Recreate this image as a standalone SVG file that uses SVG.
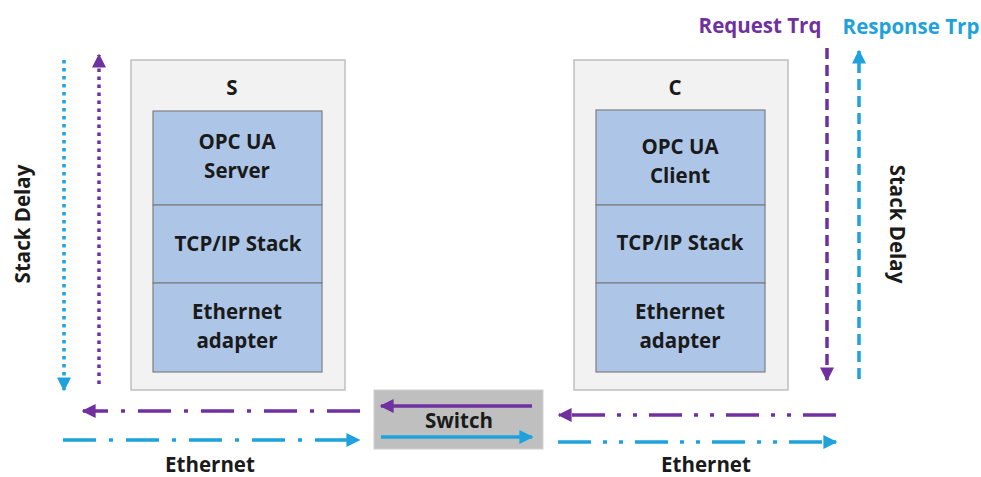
<svg xmlns="http://www.w3.org/2000/svg" width="981" height="477" viewBox="0 0 981 477">
  <style>
    .outer { fill: #f2f2f2; stroke: #bfbfbf; stroke-width: 1.5; }
    .layer { fill: #adc6e8; stroke: #7f7f7f; stroke-width: 1.2; }
    .lbl { font-family: "Open Sans", "Noto Sans", sans-serif; font-weight: bold; font-size: 20.5px; fill: #1a1a1a; text-anchor: middle; }
    .purple { stroke: #7030a0; }
    .blue { stroke: #1fa2dc; }
    .ln { fill: none; stroke-width: 3.5; }
    .dot { stroke-dasharray: 3.5 4.5; stroke-linecap: butt; }
    .dash { stroke-dasharray: 11 6; }
    .dashdot { stroke-dasharray: 33 13 4 13; }
    .dashdotdot { stroke-dasharray: 33 12 4 12 4 12; }
  </style>
  <defs>
    <marker id="ahP" viewBox="0 0 10 10" refX="9" refY="5" markerWidth="4" markerHeight="4" orient="auto" markerUnits="strokeWidth">
      <path d="M0,0 L10,5 L0,10 z" fill="#7030a0"/>
    </marker>
    <marker id="ahB" viewBox="0 0 10 10" refX="9" refY="5" markerWidth="4" markerHeight="4" orient="auto" markerUnits="strokeWidth">
      <path d="M0,0 L10,5 L0,10 z" fill="#1fa2dc"/>
    </marker>
  </defs>

  <!-- Server stack -->
  <g id="server">
    <rect class="outer" x="131" y="60" width="214" height="330"/>
    <text class="lbl" x="232" y="95">S</text>
    <rect class="layer" x="153" y="111" width="169" height="94"/>
    <rect class="layer" x="153" y="205" width="169" height="78"/>
    <rect class="layer" x="153" y="283" width="169" height="89"/>
    <text class="lbl" x="237" y="149">OPC UA</text>
    <text class="lbl" x="237" y="178">Server</text>
    <text class="lbl" x="238" y="251">TCP/IP Stack</text>
    <text class="lbl" x="237" y="319">Ethernet</text>
    <text class="lbl" x="237" y="348">adapter</text>
  </g>

  <!-- Client stack -->
  <g id="client">
    <rect class="outer" x="574" y="60" width="214" height="330"/>
    <text class="lbl" x="675" y="95">C</text>
    <rect class="layer" x="596" y="110" width="169" height="95"/>
    <rect class="layer" x="596" y="205" width="169" height="78"/>
    <rect class="layer" x="596" y="283" width="169" height="89"/>
    <text class="lbl" x="680" y="154">OPC UA</text>
    <text class="lbl" x="680" y="183">Client</text>
    <text class="lbl" x="680" y="250">TCP/IP Stack</text>
    <text class="lbl" x="680" y="319">Ethernet</text>
    <text class="lbl" x="680" y="348">adapter</text>
  </g>

  <!-- Switch -->
  <g id="switch">
    <rect x="374" y="390" width="169" height="59" fill="#bfbfbf" stroke="#d0d0d0" stroke-width="1"/>
    <text class="lbl" x="459" y="428">Switch</text>
  </g>

  <!-- Labels -->
  <g id="labels">
    <text class="lbl" x="760" y="33" style="fill:#7030a0">Request Trq</text>
    <text class="lbl" x="911" y="34" style="fill:#1fa2dc">Response Trp</text>
    <text class="lbl" transform="translate(30,224) rotate(-90)">Stack Delay</text>
    <text class="lbl" transform="translate(890,224) rotate(90)">Stack Delay</text>
    <text class="lbl" x="210" y="472">Ethernet</text>
    <text class="lbl" x="706" y="472">Ethernet</text>
  </g>

  <!-- Connectors -->
  <g id="connectors">
    <!-- stack delay, server side -->
    <line class="ln blue dot" x1="64" y1="60" x2="64" y2="390" marker-end="url(#ahB)"/>
    <line class="ln purple dot" x1="99" y1="384" x2="99" y2="55" marker-end="url(#ahP)"/>
    <!-- stack delay, client side -->
    <line class="ln purple dash" x1="827" y1="48" x2="827" y2="380" marker-end="url(#ahP)"/>
    <line class="ln blue dash" x1="859" y1="379" x2="859" y2="51" marker-end="url(#ahB)"/>
    <!-- ethernet, server side -->
    <line class="ln purple dashdot" x1="360" y1="411" x2="83" y2="411" marker-end="url(#ahP)"/>
    <line class="ln blue dashdot" x1="63" y1="440" x2="359" y2="440" marker-end="url(#ahB)"/>
    <!-- ethernet, client side -->
    <line class="ln purple dashdotdot" x1="836" y1="415" x2="559" y2="415" marker-end="url(#ahP)"/>
    <line class="ln blue dashdotdot" x1="558" y1="442" x2="836" y2="442" marker-end="url(#ahB)"/>
    <!-- through the switch -->
    <line class="ln purple" x1="532" y1="406" x2="381" y2="406" marker-end="url(#ahP)"/>
    <line class="ln blue" x1="381" y1="437" x2="532" y2="437" marker-end="url(#ahB)"/>
  </g>
</svg>
